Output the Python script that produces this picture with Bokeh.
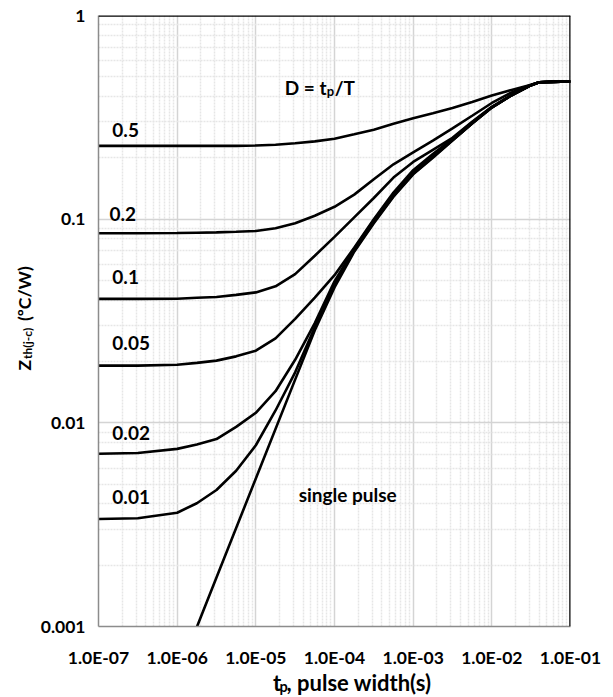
import math
from bokeh.plotting import figure
from bokeh.layouts import row, column
from bokeh.models import FixedTicker, Label, Span, Range1d
from bokeh.embed import file_html
from bokeh.resources import INLINE

# ---------------- data ----------------
pulse_width = [1e-7, 3.16e-7, 1e-6, 1.78e-6, 3.16e-6, 5.62e-6, 1e-5, 1.78e-5, 3.16e-5, 5.62e-5,
               1e-4, 1.78e-4, 3.16e-4, 5.62e-4, 1e-3, 1.78e-3, 3.16e-3, 5.62e-3,
               1e-2, 1.78e-2, 3.16e-2, 4e-2, 5.62e-2, 1e-1]

z_d050 = [0.229, 0.229, 0.229, 0.229, 0.229, 0.229, 0.230, 0.232, 0.236, 0.241, 0.248, 0.261, 0.275,
          0.294, 0.313, 0.331, 0.351, 0.376, 0.405, 0.431, 0.457, 0.470, 0.472, 0.474]
z_d020 = [0.0853, 0.0853, 0.0855, 0.0858, 0.0861, 0.0867, 0.0875, 0.0902, 0.0955, 0.104, 0.115, 0.132,
          0.157, 0.186, 0.213, 0.243, 0.279, 0.322, 0.372, 0.419, 0.457, 0.470, 0.472, 0.474]
z_d010 = [0.0406, 0.0406, 0.0407, 0.0411, 0.0415, 0.0425, 0.0437, 0.0468, 0.0537, 0.0661, 0.0818, 0.102,
          0.127, 0.160, 0.191, 0.219, 0.251, 0.301, 0.356, 0.407, 0.455, 0.470, 0.472, 0.474]
z_d005 = [0.0191, 0.0191, 0.0193, 0.0197, 0.0202, 0.0212, 0.0226, 0.0260, 0.0324, 0.0412, 0.0531, 0.0724,
          0.100, 0.135, 0.174, 0.209, 0.248, 0.299, 0.355, 0.406, 0.455, 0.470, 0.472, 0.474]
z_d002 = [0.00705, 0.00711, 0.00745, 0.00782, 0.00832, 0.00955, 0.0112, 0.0143, 0.0204, 0.0309, 0.0495,
          0.0716, 0.0989, 0.132, 0.169, 0.204, 0.245, 0.296, 0.354, 0.406, 0.455, 0.470, 0.472, 0.474]
z_d001 = [0.00337, 0.00340, 0.00362, 0.00403, 0.00468, 0.00582, 0.00776, 0.0115, 0.0177, 0.0295, 0.0479,
          0.0700, 0.0966, 0.130, 0.167, 0.202, 0.244, 0.295, 0.353, 0.406, 0.455, 0.470, 0.472, 0.474]

single_width = [1.79e-6, 3.16e-6, 1e-5, 3.16e-5, 5.62e-5, 1e-4, 1.78e-4, 3.16e-4, 5.62e-4,
                1e-3, 1.78e-3, 3.16e-3, 5.62e-3, 1e-2, 1.78e-2, 3.16e-2, 4e-2, 5.62e-2, 1e-1]
z_single = [0.001, 0.00174, 0.00533, 0.0163, 0.0285, 0.0462, 0.0692, 0.0955, 0.129,
            0.166, 0.200, 0.243, 0.295, 0.353, 0.406, 0.455, 0.470, 0.472, 0.474]

duty_labels = ["0.5", "0.2", "0.1", "0.05", "0.02", "0.01"]
duty_series = [z_d050, z_d020, z_d010, z_d005, z_d002, z_d001]

x_ticks = [1e-7, 1e-6, 1e-5, 1e-4, 1e-3, 1e-2, 1e-1]
x_tick_labels = ["1.0E-07", "1.0E-06", "1.0E-05", "1.0E-04", "1.0E-03", "1.0E-02", "1.0E-01"]
y_ticks = [0.001, 0.01, 0.1, 1]
y_tick_labels = ["0.001", "0.01", "0.1", "1"]

x_title = ["t", "p", ", pulse width(s)"]
y_title = ["Z", "th(j-c)", "(ºC/W)"]

# ---------------- styling ----------------
FONT = "Lato"
TICK_FS = "17.5px"
IN_FS = "19px"
IN_SUB = "13px"
TITLE_FS = "17.5px"
TITLE_SUB = "12px"
XT_FS = "22px"
XT_SUB = "14.5px"
SHIFT = 8  # baseline correction (px)

LEFT_W = 37
MAIN_W = 613 - LEFT_W
MAIN_H = 670
BOTTOM_H = 697 - MAIN_H

p = figure(width=MAIN_W, height=MAIN_H, x_axis_type="log", y_axis_type="log",
           x_range=Range1d(1e-7, 1e-1), y_range=Range1d(1e-3, 1),
           output_backend="svg", toolbar_location=None, title=None,
           min_border_left=96 - LEFT_W, min_border_right=43, min_border_top=15,
           min_border_bottom=MAIN_H - 627)
p.outline_line_color = None
p.background_fill_color = "white"
p.border_fill_color = "white"

minor_x = [k * 10.0 ** e for e in range(-7, -1) for k in range(2, 10)]
minor_y = [k * 10.0 ** e for e in range(-3, 0) for k in range(2, 10)]
p.xaxis.ticker = FixedTicker(ticks=x_ticks, minor_ticks=minor_x)
p.yaxis.ticker = FixedTicker(ticks=y_ticks, minor_ticks=minor_y)
p.xaxis.major_label_overrides = {t: l for t, l in zip(x_ticks, x_tick_labels)}
p.yaxis.major_label_overrides = {t: l for t, l in zip(y_ticks, y_tick_labels)}

for ax in (p.xaxis, p.yaxis):
    ax.major_tick_line_color = None
    ax.minor_tick_line_color = None
    ax.major_tick_out = 0
    ax.major_tick_in = 0
    ax.minor_tick_out = 0
    ax.minor_tick_in = 0
    ax.axis_line_color = "#8c8c8c"
    ax.axis_line_width = 1.5
    ax.major_label_text_font = FONT
    ax.major_label_text_font_style = "bold"
    ax.major_label_text_font_size = TICK_FS
    ax.major_label_text_color = "black"
p.xaxis.major_label_standoff = 20
p.yaxis.major_label_standoff = 13

for g in (p.xgrid, p.ygrid):
    g.grid_line_color = "#d4d4d4"
    g.grid_line_width = 1.5
    g.minor_grid_line_color = "#e6e6e6"
    g.minor_grid_line_width = 1.5
    g.minor_grid_line_dash = "2 1"

# top and right frame borders (black)
p.add_layout(Span(location=1, dimension="width", line_color="black", line_width=2.5))
p.add_layout(Span(location=1e-1, dimension="height", line_color="black", line_width=2.5))

# curves
for ys in duty_series:
    p.line(pulse_width, ys, line_color="black", line_width=2.6)
p.line(single_width, z_single, line_color="black", line_width=2.6)


def lab(fig, x, y, text, size, xo=0, yo=0, angle=0):
    fig.add_layout(Label(x=x, y=y, text=text, x_offset=xo, y_offset=yo,
                         text_font=FONT, text_font_style="bold", text_font_size=size,
                         text_color="black", text_baseline="alphabetic", text_align="left",
                         angle=angle))


# duty-cycle labels
label_pos = [(1.5e-7, 0.249), (1.38e-7, 0.0966), (1.5e-7, 0.0475),
             (1.5e-7, 0.0225), (1.5e-7, 0.00816), (1.5e-7, 0.00396)]
for (lx, ly), t in zip(label_pos, duty_labels):
    lab(p, lx, ly, t, IN_FS, yo=SHIFT)

# D = tp/T
lab(p, 2.33e-5, 0.405, "D = t", IN_FS, yo=SHIFT)
lab(p, 2.33e-5, 0.405, "p", IN_SUB, xo=42, yo=SHIFT - 4)
lab(p, 2.33e-5, 0.405, "/T", IN_FS, xo=50, yo=SHIFT)

lab(p, 3.5e-5, 0.00405, "single pulse", IN_FS, yo=SHIFT)


def blank(w, h):
    f = figure(width=w, height=h, output_backend="svg", toolbar_location=None, title=None,
               x_range=Range1d(0, w), y_range=Range1d(0, h),
               x_axis_location=None, y_axis_location=None, min_border=0)
    f.grid.visible = False
    f.outline_line_color = None
    f.background_fill_color = "white"
    f.border_fill_color = "white"
    return f


# y-axis title strip (pixels from bottom-left of the strip)
left = blank(LEFT_W, 697)
a = math.pi / 2
y0 = 697 - 370
bx_y = 32 - SHIFT
lab(left, bx_y, y0, y_title[0], TITLE_FS, angle=a)
lab(left, bx_y + 2.5, y0 + 11.5, y_title[1], TITLE_SUB, angle=a)
lab(left, bx_y, y0 + 11.5 + 38, y_title[2], TITLE_FS, angle=a)

# x-axis title strip
bottom = blank(MAIN_W, BOTTOM_H)
bx = 250 - LEFT_W
by = 697 - 691 + 9
lab(bottom, bx, by, x_title[0], XT_FS)
lab(bottom, bx + 8, by - 4, x_title[1], XT_SUB)
lab(bottom, bx + 8 + 8.5, by, x_title[2], XT_FS)

layout = row(left, column(p, bottom, spacing=0), spacing=0)

open("out.html", "w").write(file_html(layout, INLINE))
